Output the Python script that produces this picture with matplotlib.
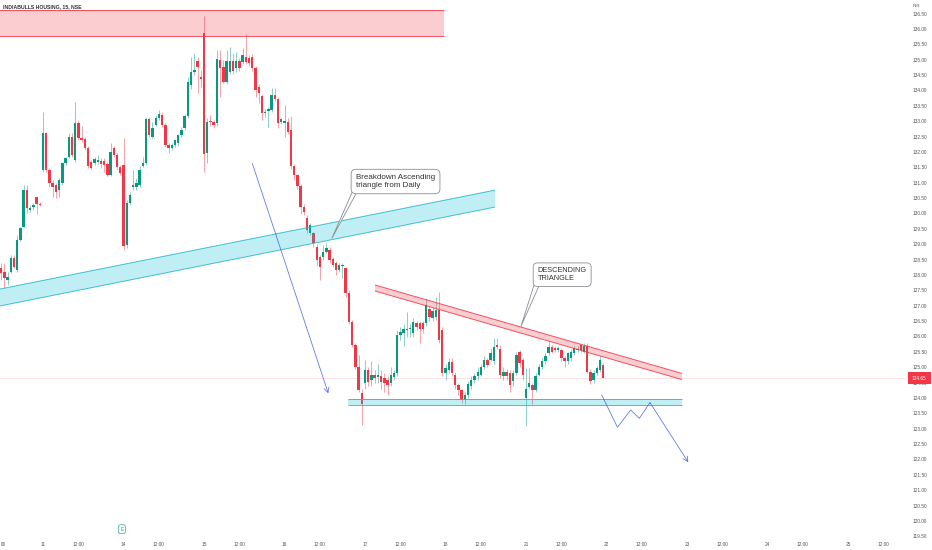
import numpy as np
import matplotlib
matplotlib.use("Agg")
import matplotlib.pyplot as plt
from matplotlib.patches import Polygon
from matplotlib.transforms import blended_transform_factory

plt.rcParams['font.family'] = ['Liberation Sans', 'DejaVu Sans']

title = "INDIABULLS HOUSING, 15, NSE"
currency = "INR"
last_price = 124.65

# 15 min bars, 25 per session, bar 0 = first bar of the 11th
first_bar = -13
bars_per_day = 25
noon_offset = 11
day_labels = ['11', '14', '15', '16', '17', '18', '21', '22', '23', '24', '25']

opens = [
    # 10th (tail)
    128.22, 128.11, 127.84, 128.11, 128.54, 128.17, 129.14, 129.57, 130.77, 130.12, 130.20, 130.53, 130.31,
    # 11th
    131.40, 132.63, 131.42, 130.98, 130.93, 130.77, 130.98, 131.63, 131.85, 132.48, 131.74, 132.94, 132.45,
    132.42, 132.12, 131.69, 131.63, 131.66, 131.72, 131.72, 131.61, 131.26, 132.12, 131.90, 131.50,
    # 14th
    131.58, 128.98, 130.33, 130.87, 130.87, 130.93, 131.55, 131.63, 133.07, 132.50, 132.88, 133.10, 133.21,
    132.88, 132.23, 132.12, 132.23, 132.28, 132.55, 132.77, 133.17, 134.18, 134.61, 134.97, 134.45,
    # 15th
    135.86, 131.96, 133.02, 132.97, 132.93, 134.99, 134.76, 134.29, 134.61, 134.97, 134.72, 134.97, 134.94,
    135.10, 135.05, 135.10, 134.72, 134.13, 133.82, 133.26, 133.34, 133.37, 133.86, 133.72, 132.99,
    # 16th
    132.93, 132.96, 132.72, 131.53, 131.25, 130.90, 130.22, 129.84, 129.35, 129.35, 128.92, 128.60, 128.60,
    128.76, 128.81, 128.51, 128.38, 128.16, 128.30, 128.22, 127.42, 126.48, 125.72, 125.02, 124.17,
    # 17th
    124.48, 124.91, 124.58, 124.75, 124.67, 124.72, 124.64, 124.58, 124.48, 124.67, 124.80, 126.05, 126.12,
    126.21, 126.23, 126.12, 126.45, 126.43, 126.43, 126.43, 126.91, 126.60, 126.64, 126.86, 126.21,
    # 18th
    124.80, 124.91, 125.18, 124.75, 124.42, 124.26, 123.93, 124.10, 124.40, 124.59, 124.70, 124.75, 125.02,
    125.24, 125.24, 125.19, 125.72, 125.59, 124.70, 124.86, 124.81, 124.54, 124.81, 125.48, 125.24,
    # 21st
    123.99, 124.37, 124.43, 124.26, 124.75, 125.02, 125.19, 125.45, 125.65, 125.62, 125.56, 125.56, 125.29,
    125.19, 125.29, 125.45, 125.56, 125.72, 125.51, 125.69, 124.86, 124.59, 124.81, 124.91, 125.08,
]
highs = [
    128.38, 128.38, 128.11, 128.65, 128.65, 129.30, 129.57, 130.93, 130.93, 130.28, 130.33, 130.57, 130.39,
    133.31, 132.66, 131.47, 131.09, 130.98, 131.15, 131.69, 131.85, 132.61, 132.61, 133.64, 133.04, 132.83,
    132.50, 132.18, 131.74, 131.85, 131.90, 131.80, 131.80, 131.69, 132.28, 132.18, 131.96, 131.58,
    132.45, 130.44, 130.71, 131.42, 131.15, 131.53, 131.85, 133.15, 133.15, 132.99, 133.21, 133.37, 133.30,
    132.93, 132.30, 132.30, 132.40, 132.60, 132.80, 133.25, 134.45, 135.10, 135.21, 135.10, 134.67,
    136.42, 133.10, 133.20, 133.05, 135.32, 135.32, 134.99, 135.32, 135.43, 135.21, 135.26, 135.05, 135.37,
    135.84, 135.15, 135.20, 134.80, 134.20, 133.90, 133.40, 133.45, 134.07, 134.07, 133.80, 133.10,
    133.53, 133.10, 133.18, 131.60, 131.30, 130.95, 130.30, 129.95, 129.70, 129.40, 129.00, 128.65, 128.98,
    129.05, 128.90, 128.60, 128.45, 128.40, 128.38, 128.27, 127.50, 126.55, 125.80, 125.40, 124.30,
    125.25, 125.00, 125.20, 124.90, 125.10, 124.90, 124.80, 124.70, 125.00, 124.90, 126.20, 126.30, 126.40,
    126.80, 126.40, 126.60, 126.50, 126.50, 126.50, 127.25, 127.00, 126.95, 127.30, 127.46, 126.30,
    125.10, 125.30, 125.30, 124.85, 124.50, 124.30, 124.20, 124.55, 124.70, 124.80, 125.00, 125.10, 125.35,
    125.30, 125.62, 125.94, 125.94, 125.73, 125.00, 124.95, 124.90, 124.90, 125.51, 125.56, 125.30,
    124.97, 124.97, 124.50, 124.80, 125.10, 125.30, 125.45, 125.84, 125.72, 125.70, 125.70, 125.62, 125.35,
    125.50, 125.60, 125.70, 125.70, 125.78, 125.78, 125.78, 124.95, 124.90, 125.05, 125.35, 125.15,
]
lows = [
    127.84, 127.57, 127.68, 128.06, 128.22, 128.11, 129.09, 129.55, 130.01, 130.06, 130.12, 129.99, 130.23,
    131.36, 131.36, 130.87, 130.55, 130.49, 130.53, 130.93, 131.58, 131.80, 131.85, 131.69, 132.39, 132.34,
    132.07, 131.47, 131.42, 131.58, 131.61, 131.47, 131.36, 131.22, 131.22, 131.85, 131.44, 131.26,
    128.82, 128.87, 130.28, 130.77, 130.77, 130.87, 131.50, 131.58, 132.50, 132.45, 132.83, 133.04, 132.80,
    132.17, 131.96, 132.05, 132.15, 132.20, 132.50, 132.70, 133.10, 134.05, 134.50, 133.91, 134.13,
    131.36, 131.63, 132.85, 132.78, 132.85, 133.80, 134.23, 134.20, 134.55, 134.55, 134.60, 134.65, 134.85,
    134.85, 134.80, 134.65, 133.80, 133.58, 133.04, 133.15, 132.82, 133.30, 133.65, 132.77, 132.90,
    132.50, 132.60, 131.45, 131.09, 130.80, 130.00, 129.95, 129.35, 129.30, 128.90, 128.30, 127.84, 128.50,
    128.70, 128.40, 128.25, 128.00, 128.10, 127.90, 127.30, 126.40, 125.65, 124.95, 124.20, 123.12,
    124.30, 124.40, 124.40, 124.50, 124.50, 124.30, 124.20, 124.10, 124.40, 124.60, 124.70, 125.90, 125.70,
    126.00, 126.00, 126.00, 126.20, 125.80, 126.10, 126.35, 126.50, 126.50, 126.55, 125.80, 124.70,
    124.60, 124.80, 124.70, 124.30, 124.10, 123.85, 123.80, 124.00, 124.30, 124.50, 124.60, 124.70, 124.95,
    125.00, 125.20, 125.10, 125.60, 124.65, 124.60, 124.60, 124.20, 124.40, 124.75, 125.00, 124.60,
    123.09, 124.30, 123.80, 124.20, 124.70, 124.95, 125.10, 125.40, 125.45, 125.50, 125.50, 125.20, 125.00,
    125.10, 125.20, 125.40, 125.50, 125.50, 125.45, 124.80, 124.45, 124.50, 124.75, 124.85, 124.65,
]
closes = [
    128.08, 127.90, 127.95, 128.54, 128.27, 129.14, 129.52, 130.77, 130.17, 130.17, 130.28, 130.31, 130.28,
    132.63, 131.42, 130.98, 130.87, 130.71, 131.09, 131.63, 131.80, 132.48, 131.90, 132.94, 132.45, 132.39,
    132.12, 131.53, 131.47, 131.76, 131.74, 131.61, 131.58, 131.26, 132.01, 131.90, 131.50, 131.31,
    128.93, 130.33, 130.61, 130.93, 130.98, 131.42, 131.63, 133.07, 132.56, 132.77, 133.10, 133.24, 132.88,
    132.23, 132.12, 132.23, 132.38, 132.55, 132.72, 133.17, 134.29, 134.61, 134.67, 134.78, 134.39,
    131.94, 132.96, 132.97, 132.88, 135.02, 134.72, 134.29, 134.97, 134.97, 134.65, 134.97, 134.72, 135.16,
    134.94, 134.89, 134.72, 134.02, 133.91, 133.26, 133.31, 133.40, 133.86, 133.72, 132.93, 133.06,
    133.02, 132.66, 131.53, 131.25, 130.90, 130.22, 130.06, 129.46, 129.62, 129.03, 128.49, 128.27, 128.76,
    128.87, 128.49, 128.33, 128.16, 128.33, 128.33, 127.40, 126.48, 125.72, 125.02, 124.26, 123.80,
    124.91, 124.53, 124.75, 124.64, 124.75, 124.53, 124.48, 124.42, 124.75, 124.80, 126.05, 126.16, 126.26,
    126.26, 126.28, 126.48, 126.32, 126.26, 126.23, 127.02, 126.64, 126.84, 126.86, 125.88, 124.80,
    124.96, 125.18, 124.80, 124.42, 124.26, 123.93, 124.10, 124.45, 124.59, 124.70, 124.86, 125.02, 125.24,
    125.08, 125.45, 125.67, 125.67, 124.75, 124.86, 124.70, 124.43, 124.81, 125.40, 125.13, 124.75,
    124.29, 124.48, 124.26, 124.70, 125.02, 125.19, 125.37, 125.65, 125.51, 125.56, 125.62, 125.29, 125.19,
    125.45, 125.51, 125.62, 125.59, 125.56, 125.69, 124.86, 124.54, 124.81, 124.97, 125.24, 124.65,
]

# drawings, in (bar, price)
supply_zone = [(-14, 135.77), (124.5, 136.62)]
support_zone = [(94.7, 123.76), (198.4, 123.97)]
asc_channel_top = [(-14, 127.53), (140.4, 130.76)]
asc_channel_bot = [(-14, 126.98), (140.4, 130.21)]
desc_band_top = [(103.1, 127.675), (198.4, 124.80)]
desc_band_bot = [(103.1, 127.48), (198.4, 124.60)]
drop_arrow = [(65.0, 131.63), (88.6, 124.15)]
projection = [(173.5, 124.10), (178.4, 123.05), (182.5, 123.61),
              (185.2, 123.34), (188.5, 123.85), (200.4, 121.91)]

callout_1 = "Breakdown Ascending\ntriangle from Daily"
callout_2 = "DESCENDING\nTRIANGLE"

green = '#089981'
red = '#f23645'
cyan = '#00bcd4'
blue = '#3f5bea'
txt = '#333333'
axis_txt = '#555555'

W, H = 932, 550
fig = plt.figure(figsize=(W / 100, H / 100), dpi=100)
pane_right, pane_bottom = 905, 540
ax = fig.add_axes([0, (H - pane_bottom) / H, pane_right / W, pane_bottom / H])

# pixel calibration of the original screen: bar 0 at x=43, 3.22 px per bar
ax.set_xlim((0 - 43) / 3.22, (pane_right - 43) / 3.22)
ax.set_ylim(136 - (pane_bottom - 29) / 30.75, 136 + 29 / 30.75)

x = np.arange(first_bar, first_bar + len(opens))
o, hi, lo, c = map(np.array, (opens, highs, lows, closes))
cols = np.where(c >= o, green, red)
ax.vlines(x, lo, hi, colors=cols, lw=0.5, alpha=0.65, zorder=3)
body_lo = np.minimum(o, c)
body_h = np.maximum(np.abs(c - o), 0.04)
ax.bar(x, body_h, width=0.74, bottom=body_lo, color=cols, lw=0, zorder=4)

ax.axhline(last_price, color=red, alpha=0.22, lw=0.5, zorder=2)


def band(top, bot, color, edge):
    pts = [top[0], top[1], bot[1], bot[0]]
    ax.add_patch(Polygon(pts, closed=True, fc=color, alpha=0.25, ec='none', zorder=5))
    for ln in (top, bot):
        ax.plot([ln[0][0], ln[1][0]], [ln[0][1], ln[1][1]], color=edge, lw=0.7,
                alpha=0.85, zorder=5, solid_capstyle='butt')


def box(corners, color, edge):
    (x0, y0), (x1, y1) = corners
    band([(x0, y1), (x1, y1)], [(x0, y0), (x1, y0)], color, edge)


box(supply_zone, red, red)
box(support_zone, cyan, '#22b8c8')
band(asc_channel_top, asc_channel_bot, cyan, '#22b8c8')
band(desc_band_top, desc_band_bot, red, red)

arrow_kw = dict(arrowstyle='->,head_length=0.35,head_width=0.18', color=blue, lw=0.6,
                alpha=0.8, shrinkA=0, shrinkB=0)
ax.annotate('', xy=drop_arrow[1], xytext=drop_arrow[0], arrowprops=arrow_kw, zorder=6)
px, py = zip(*projection[:-1])
ax.plot(px, py, color=blue, lw=0.6, alpha=0.8, zorder=6)
ax.annotate('', xy=projection[-1], xytext=projection[-2], arrowprops=arrow_kw, zorder=6)


def callout(text, xy, tail_base, tip, size):
    ax.add_patch(Polygon([tail_base[0], tip, tail_base[1]], closed=True, fc='white',
                         ec='#8a8d96', lw=0.6, zorder=7))
    ax.text(xy[0], xy[1], text, ha='left', va='center', fontsize=size, color=txt,
            linespacing=1.15, zorder=8,
            bbox=dict(boxstyle='round,pad=0.6,rounding_size=0.6', fc='white',
                      ec='#8a8d96', lw=0.6))


callout(callout_1, (97.2, 131.04), [(96.3, 130.76), (97.8, 130.76)], (89.7, 129.19), 5.8)
callout(callout_2, (153.6, 128.01), [(152.6, 127.71), (154.3, 127.71)], (148.4, 126.32), 5.3)

# axes
for s in ax.spines.values():
    s.set_visible(False)

yt = np.arange(119.5, 136.51, 0.5)
ax.yaxis.tick_right()
ax.set_yticks(yt)
ax.set_yticklabels([f'{v:.2f}' for v in yt])
ax.tick_params(axis='y', length=0, pad=5.5, labelsize=3.4, labelcolor=axis_txt)

# the 12:00 of the 10th only shows its last two digits at the left edge
xt, xl = [-12.4], ['00']
for k, d in enumerate(day_labels):
    start = k * bars_per_day
    xt += [start, start + noon_offset]
    xl += [d, '12:00']
ax.set_xticks(xt)
ax.set_xticklabels(xl)
ax.tick_params(axis='x', length=0, pad=1.2, labelsize=3.4, labelcolor=axis_txt)

ax.text(912 / pane_right, last_price, f'{last_price:.2f}', transform=ax.get_yaxis_transform(),
        ha='left', va='center', fontsize=3.4, color='white', zorder=10, clip_on=False,
        bbox=dict(boxstyle='square,pad=0.8', fc=red, ec='none'))

# earnings marker
ax.text(24.5, 0.02, 'E', transform=blended_transform_factory(ax.transData, ax.transAxes),
        ha='center', va='center', fontsize=3.6, color='#26a69a', zorder=9,
        bbox=dict(boxstyle='round,pad=0.4,rounding_size=0.5', fc='white', ec='#26a69a', lw=0.5))

fig.text(3 / W, 1 - 6.7 / H, title, fontsize=3.7, fontweight='bold', color=txt, va='center')
fig.text(913 / W, 1 - 6 / H, currency, fontsize=3.2, color=axis_txt, va='center')

fig.savefig('out.png', dpi=100)
